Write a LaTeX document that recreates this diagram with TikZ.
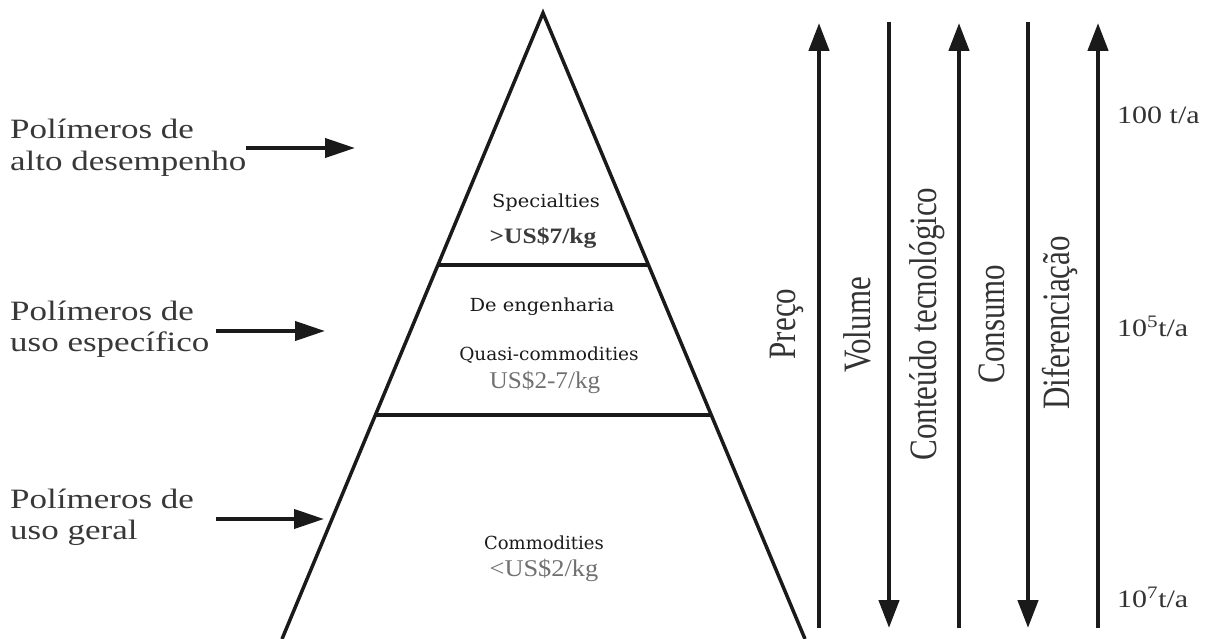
\documentclass[tikz,border=0pt]{standalone}
\usepackage{fontspec}
\setmainfont{Liberation Serif}
\newfontfamily\dvs{DejaVu Serif}
\usetikzlibrary{arrows.meta,calc}
\newcommand{\hsx}[2][1.25]{\scalebox{#1}[1]{#2}}
\newcommand{\vsx}[2][1.25]{\scalebox{1}[#1]{#2}}
\definecolor{gtxt}{HTML}{707070}
\definecolor{dtxt}{HTML}{3A3A3A}
\definecolor{ink}{HTML}{1A1A1A}
\begin{document}
\begin{tikzpicture}[x=1pt,y=-1pt,
  pyr/.style={line width=3.5pt, draw=ink},
  vline/.style={line width=4.5pt, draw=ink},
  tipv/.style={-{Triangle[length=28pt,width=20pt]}},
  larrow/.style={line width=4pt, draw=ink, -{Triangle[length=30pt,width=19pt]}},
  lefttxt/.style={anchor=west, align=left, inner sep=0pt, text=black!78,
    font=\fontsize{28}{31.5}\selectfont},
  rottxt/.style={rotate=90, inner sep=0pt, text=black!80,
    font=\fontsize{31}{36}\selectfont},
  ratetxt/.style={anchor=west, inner sep=0pt, text=black!80,
    font=\fontsize{25}{30}\selectfont},
  cattxt/.style={inner sep=0pt, text=ink, font=\dvs\fontsize{18}{22}\selectfont},
  pricetxt/.style={inner sep=0pt, text=gtxt, font=\fontsize{24}{28}\selectfont}
]
\useasboundingbox (0,0) rectangle (1213,639);

% pyramid
\coordinate (apex) at (543,13);
\coordinate (bl) at (282,639);
\coordinate (br) at (805,639);
\draw[pyr, line join=miter] (bl) -- (apex) -- (br);
\coordinate (d1l) at ($(apex)!0.4026!(bl)$);
\coordinate (d1r) at ($(apex)!0.4026!(br)$);
\coordinate (d2l) at ($(apex)!0.642!(bl)$);
\coordinate (d2r) at ($(apex)!0.642!(br)$);
\draw[pyr] (d1l) -- (d1r);
\draw[pyr] (d2l) -- (d2r);

% pyramid texts
\node[cattxt] (spec) at (546,203) {\hsx[1.08]{Specialties}};
\node[inner sep=0pt, text=dtxt, font=\bfseries\fontsize{22}{26}\selectfont] (p7) at (543,238) {\hsx[1.16]{>US\$7/kg}};
\node[cattxt] (eng) at (542,307) {\hsx[1.08]{De engenharia}};
\node[cattxt] (quasi) at (549,355) {\hsx[1.03]{Quasi-commodities}};
\node[pricetxt] (p27) at (545,382) {\hsx[1.05]{US\$2-7/kg}};
\node[cattxt] (comm) at (544,543) {\hsx[1.0]{Commodities}};
\node[pricetxt] (p2) at (544,570) {\hsx[1.1]{<US\$2/kg}};

% left labels
\node[lefttxt] (l1) at (10,147.5) {\hsx{Polímeros de}\\\hsx{alto desempenho}};
\node[lefttxt] (l2) at (10,329) {\hsx{Polímeros de}\\\hsx{uso específico}};
\node[lefttxt] (l3) at (10,517.5) {\hsx{Polímeros de}\\\hsx{uso geral}};

\coordinate (a1s) at (246,148);
\coordinate (a1e) at (355,148);
\coordinate (a2s) at (216,331);
\coordinate (a2e) at (325,331);
\coordinate (a3s) at (216,519);
\coordinate (a3e) at (324,519);
\draw[larrow] (a1s) -- (a1e);
\draw[larrow] (a2s) -- (a2e);
\draw[larrow] (a3s) -- (a3e);

% vertical arrows
\coordinate (v1t) at (819,23);  \coordinate (v1b) at (819,628);
\coordinate (v2t) at (889,22);  \coordinate (v2b) at (889,628);
\coordinate (v3t) at (959,23);  \coordinate (v3b) at (959,628);
\coordinate (v4t) at (1028,22); \coordinate (v4b) at (1028,628);
\coordinate (v5t) at (1098,23); \coordinate (v5b) at (1098,628);
\draw[vline, tipv] (v1b) -- (v1t);
\draw[vline, tipv] (v2t) -- (v2b);
\draw[vline, tipv] (v3b) -- (v3t);
\draw[vline, tipv] (v4t) -- (v4b);
\draw[vline, tipv] (v5b) -- (v5t);

% rotated labels
\node[rottxt] (preco) at (787,324) {\vsx{Preço}};
\node[rottxt] (vol) at (857,325) {\vsx{Volume}};
\node[rottxt] (cont) at (927,324) {\vsx{Conteúdo tecnológico}};
\node[rottxt] (cons) at (992,324) {\vsx{Consumo}};
\node[rottxt] (dif) at (1060,323) {\vsx{Diferenciação}};

% rates
\node[ratetxt] (r1) at (1117,115) {\hsx[1.2]{100 t/a}};
\node[ratetxt] (r2) at (1117,326) {\hsx[1.2]{10\textsuperscript{5}t/a}};
\node[ratetxt] (r3) at (1117,597) {\hsx[1.2]{10\textsuperscript{7}t/a}};
\end{tikzpicture}
\end{document}
